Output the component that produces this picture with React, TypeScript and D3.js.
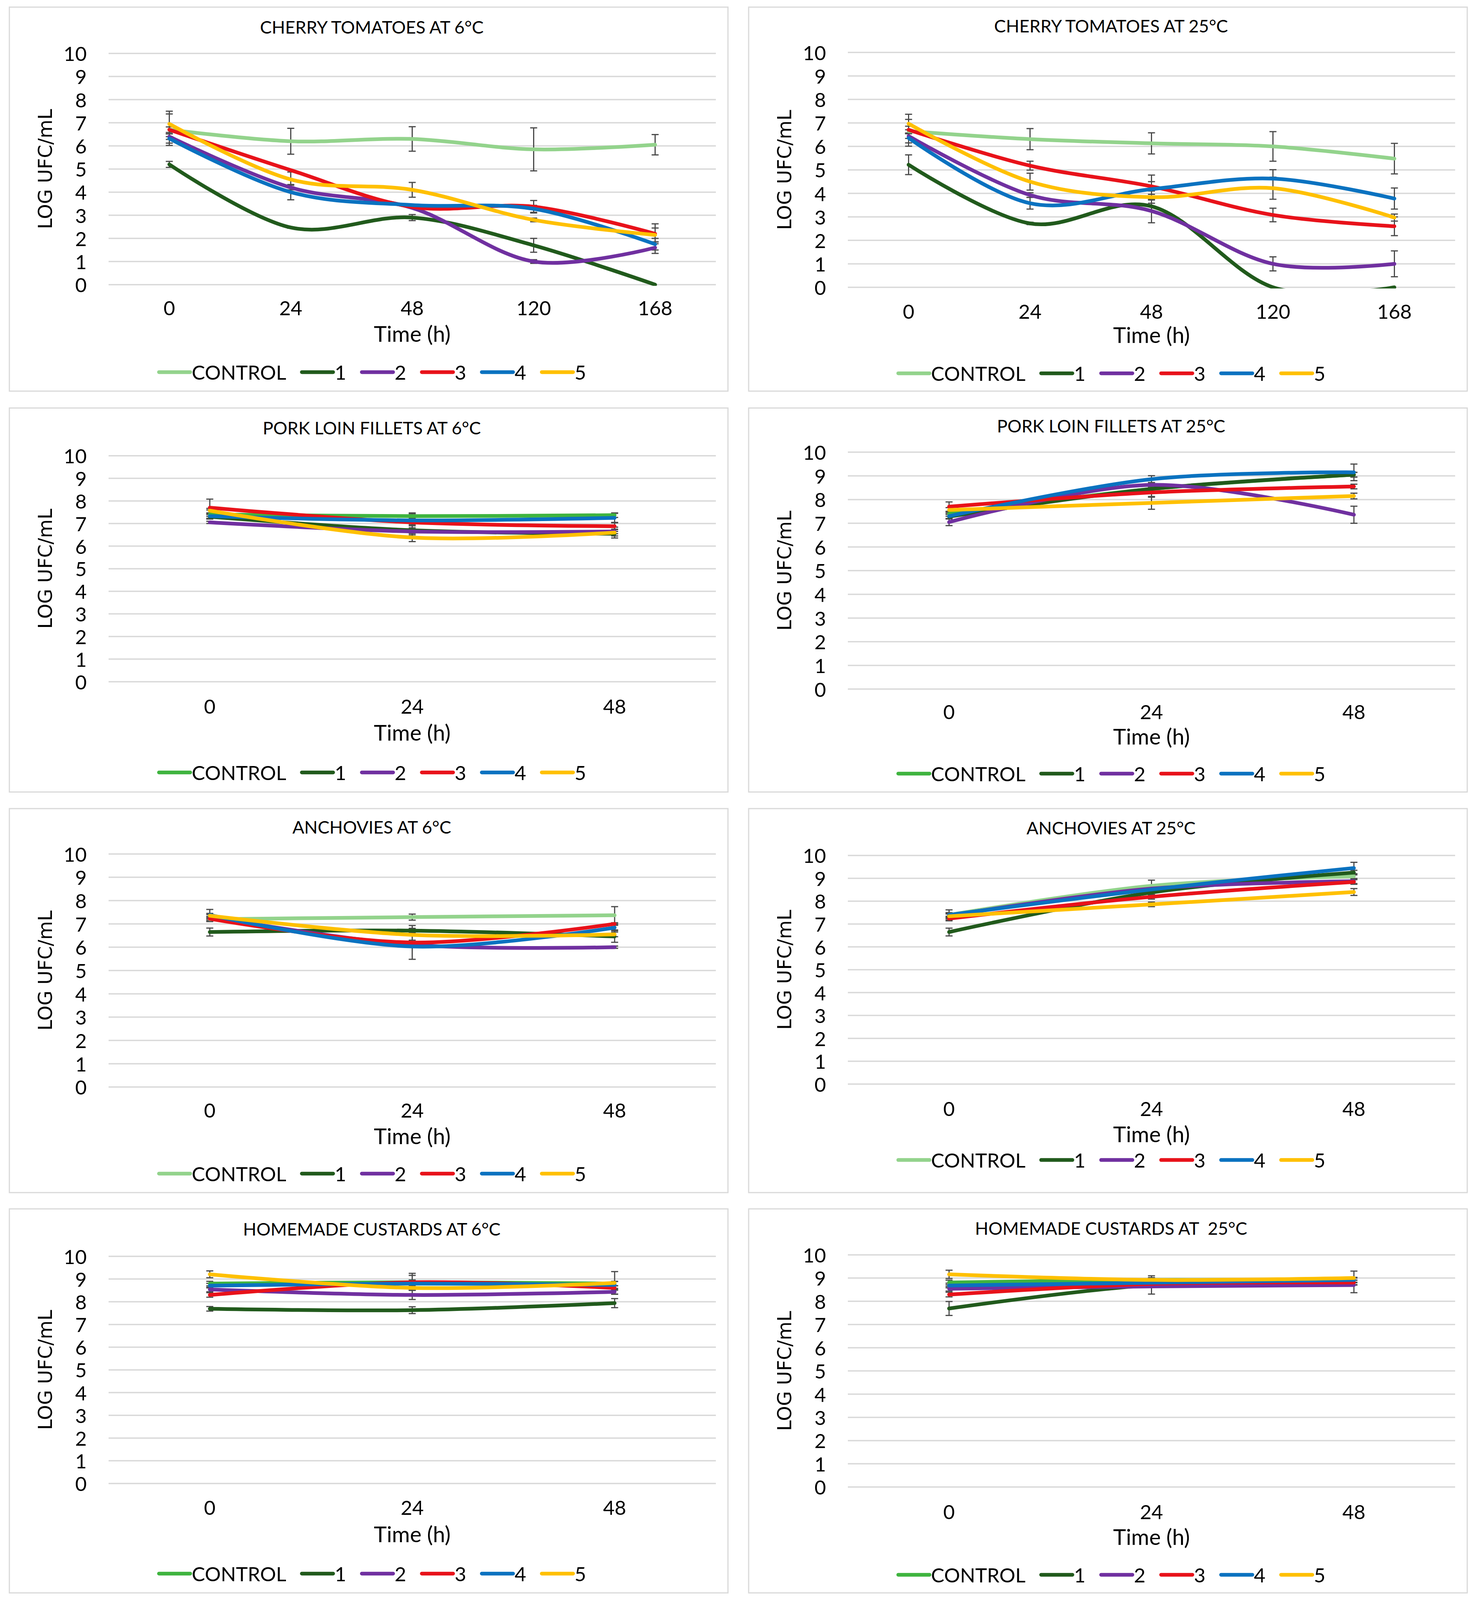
import { useEffect, useRef } from "react"
import * as d3 from "d3"

// series and categories
const seriesNames = ["CONTROL", "1", "2", "3", "4", "5"]
const timesLong = ["0", "24", "48", "120", "168"]
const timesShort = ["0", "24", "48"]
const yTicks = [0, 1, 2, 3, 4, 5, 6, 7, 8, 9, 10]

const titles = [
  "CHERRY TOMATOES AT 6°C",
  "CHERRY TOMATOES AT 25°C",
  "PORK LOIN FILLETS AT 6°C",
  "PORK LOIN FILLETS AT 25°C",
  "ANCHOVIES AT 6°C",
  "ANCHOVIES AT 25°C",
  "HOMEMADE CUSTARDS AT 6°C",
  "HOMEMADE CUSTARDS AT  25°C",
]

// mean log counts, one row per series (CONTROL, 1..5)
const cherry6Mean = [
  [6.7, 6.2, 6.3, 5.85, 6.05],
  [5.2, 2.47, 2.9, 1.7, 0],
  [6.4, 4.2, 3.32, 1.0, 1.6],
  [6.7, 4.95, 3.36, 3.37, 2.2],
  [6.32, 4.0, 3.44, 3.28, 1.75],
  [6.95, 4.55, 4.1, 2.8, 2.15],
]
const cherry6Err = [
  [0.12, 0.56, 0.53, 0.93, 0.44],
  [0.13, 0.03, 0.13, 0.3, 0],
  [0.12, 0.1, 0, 0.08, 0.25],
  [0.68, 0, 0, 0.27, 0.43],
  [0.2, 0.33, 0, 0.15, 0.25],
  [0.55, 0.32, 0.32, 0.08, 0.3],
]

const cherry25Mean = [
  [6.65, 6.31, 6.13, 6.0, 5.48],
  [5.22, 2.72, 3.45, 0, 0],
  [6.44, 3.93, 3.25, 1.0, 1.0],
  [6.71, 5.18, 4.3, 3.08, 2.6],
  [6.36, 3.58, 4.18, 4.63, 3.78],
  [6.97, 4.5, 3.84, 4.22, 2.97],
]
const cherry25Err = [
  [0.5, 0.45, 0.45, 0.63, 0.65],
  [0.42, 0.05, 0, 0, 0],
  [0.1, 0.1, 0.5, 0.3, 0.55],
  [0.15, 0.19, 0.2, 0.29, 0.4],
  [0.35, 0.25, 0.6, 0.38, 0.45],
  [0.4, 0.36, 0.12, 0.47, 0.15],
]

const pork6Mean = [
  [7.4, 7.33, 7.37],
  [7.3, 6.7, 6.55],
  [7.05, 6.65, 6.65],
  [7.7, 7.05, 6.88],
  [7.33, 7.14, 7.25],
  [7.57, 6.38, 6.6],
]
const pork6Err = [
  [0.2, 0.1, 0.1],
  [0.1, 0.2, 0.1],
  [0.05, 0.05, 0.1],
  [0.38, 0.1, 0.15],
  [0.1, 0.33, 0.2],
  [0.1, 0.18, 0.24],
]

const pork25Mean = [
  [7.4, 8.45, 9.05],
  [7.28, 8.45, 9.05],
  [7.05, 8.62, 7.36],
  [7.7, 8.3, 8.55],
  [7.3, 8.86, 9.15],
  [7.56, 7.86, 8.15],
]
const pork25Err = [
  [0.1, 0.1, 0.1],
  [0.1, 0.1, 0.1],
  [0.15, 0.1, 0.36],
  [0.2, 0.2, 0.1],
  [0.1, 0.15, 0.35],
  [0.1, 0.27, 0.12],
]

const anchovy6Mean = [
  [7.2, 7.29, 7.37],
  [6.65, 6.71, 6.46],
  [7.3, 6.1, 6.0],
  [7.22, 6.2, 7.0],
  [7.38, 6.03, 6.84],
  [7.35, 6.53, 6.55],
]
const anchovy6Err = [
  [0.1, 0.13, 0.37],
  [0.17, 0.1, 0.25],
  [0.1, 0.05, 0.05],
  [0.1, 0.1, 0.05],
  [0.24, 0.55, 0.1],
  [0.1, 0.4, 0.1],
]

const anchovy25Mean = [
  [7.4, 8.67, 9.09],
  [6.65, 8.38, 9.25],
  [7.37, 8.55, 8.87],
  [7.24, 8.19, 8.84],
  [7.4, 8.51, 9.45],
  [7.34, 7.86, 8.4],
]
const anchovy25Err = [
  [0.1, 0.25, 0.1],
  [0.17, 0.1, 0.1],
  [0.1, 0.1, 0.1],
  [0.1, 0.1, 0.1],
  [0.22, 0.1, 0.25],
  [0.1, 0.1, 0.15],
]

const custard6Mean = [
  [8.8, 8.86, 8.8],
  [7.69, 7.63, 7.94],
  [8.54, 8.3, 8.44],
  [8.3, 8.86, 8.61],
  [8.71, 8.8, 8.74],
  [9.21, 8.61, 8.83],
]
const custard6Err = [
  [0.1, 0.1, 0.1],
  [0.1, 0.15, 0.2],
  [0.1, 0.2, 0.1],
  [0.1, 0.3, 0.1],
  [0.1, 0.45, 0.15],
  [0.15, 0.1, 0.5],
]

const custard25Mean = [
  [8.81, 8.92, 8.9],
  [7.69, 8.7, 8.81],
  [8.54, 8.64, 8.7],
  [8.29, 8.75, 8.81],
  [8.68, 8.8, 8.92],
  [9.16, 8.92, 9.0],
]
const custard25Err = [
  [0.1, 0.1, 0.1],
  [0.3, 0.1, 0.1],
  [0.1, 0.33, 0.33],
  [0.1, 0.1, 0.1],
  [0.1, 0.1, 0.1],
  [0.18, 0.18, 0.3],
]

const lightControl = "#93d38c"
const darkControl = "#3fb43f"
const treatmentColors = ["#215a1c", "#7030a0", "#e8121a", "#0a72c0", "#ffc000"]

// layout (page pixels at full height)
const FULL_W = 3782
const FULL_H = 5396
const W = 1840
const H = 1295
const colX = [24, 1917]
const rowY = [24, 1376, 2727, 4077]
const plotL = 254
const plotR = 1809

const LABEL_FONT = "Lato, 'Liberation Sans', sans-serif"

const panels = [
  { mean: cherry6Mean, err: cherry6Err, times: timesLong, control: lightControl, yTop: 156, yBot: 936, titleY: 67, tickY: 1014, timeY: 1101, legendY: 1231 },
  { mean: cherry25Mean, err: cherry25Err, times: timesLong, control: lightControl, yTop: 153, yBot: 945, titleY: 63, tickY: 1025, timeY: 1105, legendY: 1235 },
  { mean: pork6Mean, err: pork6Err, times: timesShort, control: darkControl, yTop: 161, yBot: 923, titleY: 66, tickY: 1005, timeY: 1094, legendY: 1229 },
  { mean: pork25Mean, err: pork25Err, times: timesShort, control: darkControl, yTop: 149, yBot: 948, titleY: 60, tickY: 1024, timeY: 1106, legendY: 1233 },
  { mean: anchovy6Mean, err: anchovy6Err, times: timesShort, control: lightControl, yTop: 153, yBot: 939, titleY: 62, tickY: 1017, timeY: 1103, legendY: 1231 },
  { mean: anchovy25Mean, err: anchovy25Err, times: timesShort, control: lightControl, yTop: 158, yBot: 929, titleY: 64, tickY: 1011, timeY: 1097, legendY: 1185 },
  { mean: custard6Mean, err: custard6Err, times: timesShort, control: darkControl, yTop: 160, yBot: 926, titleY: 67, tickY: 1006, timeY: 1096, legendY: 1230 },
  { mean: custard25Mean, err: custard25Err, times: timesShort, control: darkControl, yTop: 155, yBot: 938, titleY: 65, tickY: 1020, timeY: 1105, legendY: 1234 },
]

export default function App() {
  const svgRef = useRef<SVGSVGElement>(null)

  // squeeze the layout vertically if the window is shorter than the figure
  const sy = typeof window !== "undefined" ? Math.min(1, window.innerHeight / FULL_H) : 1
  const pageH = Math.floor(FULL_H * sy)

  useEffect(() => {
    if (!svgRef.current) return
    const svg = d3.select(svgRef.current)
    svg.selectAll("*").remove()

    svg.append("rect").attr("width", FULL_W).attr("height", pageH).attr("fill", "#fff")

    panels.forEach((p, idx) => {
      const px = colX[idx % 2]
      const py = rowY[Math.floor(idx / 2)] * sy
      const colors = [p.control, ...treatmentColors]
      const yTop = p.yTop * sy
      const yBot = p.yBot * sy

      const g = svg.append("g").attr("transform", `translate(${px},${py})`)

      g.append("rect")
        .attr("x", 0)
        .attr("y", 0)
        .attr("width", W)
        .attr("height", H * sy)
        .attr("fill", "#fff")
        .attr("stroke", "#d9d9d9")
        .attr("stroke-width", 3)

      const x = d3.scalePoint<string>().domain(p.times).range([plotL, plotR]).padding(0.5)
      const y = d3.scaleLinear().domain([0, 10]).range([yBot, yTop])

      // gridlines
      g.append("g")
        .selectAll("line")
        .data(yTicks)
        .join("line")
        .attr("x1", plotL)
        .attr("x2", plotR)
        .attr("y1", (d) => y(d))
        .attr("y2", (d) => y(d))
        .attr("stroke", "#d9d9d9")
        .attr("stroke-width", 3.5)

      // y tick labels
      g.append("g")
        .selectAll("text")
        .data(yTicks)
        .join("text")
        .attr("x", 198)
        .attr("y", (d) => y(d))
        .attr("text-anchor", "end")
        .attr("dominant-baseline", "central")
        .style("font-family", LABEL_FONT)
        .style("font-size", "51px")
        .style("fill", "#000")
        .text((d) => String(d))

      // x tick labels
      g.append("g")
        .selectAll("text")
        .data(p.times)
        .join("text")
        .attr("x", (d) => x(d) as number)
        .attr("y", p.tickY * sy)
        .attr("text-anchor", "middle")
        .attr("dominant-baseline", "central")
        .style("font-family", LABEL_FONT)
        .style("font-size", "51px")
        .style("fill", "#000")
        .text((d) => d)

      // clip to plot area
      const clipId = `clip-${idx}`
      g.append("clipPath")
        .attr("id", clipId)
        .append("rect")
        .attr("x", plotL)
        .attr("y", yTop - 20)
        .attr("width", plotR - plotL)
        .attr("height", yBot - yTop + 23)

      const plot = g.append("g").attr("clip-path", `url(#${clipId})`)

      // error bars
      p.mean.forEach((row, s) => {
        row.forEach((v, i) => {
          const e = p.err[s][i]
          if (!e) return
          const cx = x(p.times[i]) as number
          const bar = plot.append("g").attr("stroke", "#4a4a4a").attr("stroke-width", 3)
          bar.append("line").attr("x1", cx).attr("x2", cx).attr("y1", y(v - e)).attr("y2", y(v + e))
          bar.append("line").attr("x1", cx - 9).attr("x2", cx + 9).attr("y1", y(v - e)).attr("y2", y(v - e))
          bar.append("line").attr("x1", cx - 9).attr("x2", cx + 9).attr("y1", y(v + e)).attr("y2", y(v + e))
        })
      })

      // smoothed series lines
      const line = d3
        .line<number>()
        .x((_, i) => x(p.times[i]) as number)
        .y((d) => y(d))
        .curve(d3.curveCatmullRom.alpha(0))

      p.mean.forEach((row, s) => {
        plot
          .append("path")
          .attr("d", line(row))
          .attr("fill", "none")
          .attr("stroke", colors[s])
          .attr("stroke-width", 9.5)
          .attr("stroke-linecap", "round")
          .attr("stroke-linejoin", "round")
      })

      // chart title
      g.append("text")
        .attr("x", W / 2 + 8)
        .attr("y", p.titleY * sy)
        .attr("text-anchor", "middle")
        .attr("dominant-baseline", "central")
        .style("font-family", LABEL_FONT)
        .style("font-size", "45px")
        .style("fill", "#000")
        .style("white-space", "pre")
        .text(titles[idx])

      // axis titles
      g.append("text")
        .attr("x", (plotL + plotR) / 2)
        .attr("y", p.timeY * sy)
        .attr("text-anchor", "middle")
        .attr("dominant-baseline", "central")
        .style("font-family", LABEL_FONT)
        .style("font-size", "56px")
        .style("fill", "#000")
        .text("Time (h)")

      g.append("text")
        .attr("transform", `translate(92,${(yTop + yBot) / 2}) rotate(-90)`)
        .attr("text-anchor", "middle")
        .attr("dominant-baseline", "central")
        .style("font-family", "'DejaVu Sans', sans-serif")
        .style("font-size", "49px")
        .style("fill", "#000")
        .text("LOG UFC/mL")

      // legend
      const legendY = p.legendY * sy
      const legend = g.append("g")
      const items = seriesNames.map((name, s) => {
        const item = legend.append("g")
        item
          .append("line")
          .attr("x1", 0)
          .attr("x2", 80)
          .attr("y1", legendY)
          .attr("y2", legendY)
          .attr("stroke", colors[s])
          .attr("stroke-width", 9.5)
          .attr("stroke-linecap", "round")
        const t = item
          .append("text")
          .attr("x", 84)
          .attr("y", legendY)
          .attr("dominant-baseline", "central")
          .style("font-family", LABEL_FONT)
          .style("font-size", "51px")
          .style("fill", "#000")
          .text(name)
        const tw = (t.node() as SVGTextElement).getComputedTextLength()
        return { item, w: 84 + tw }
      })
      const gap = 40
      const total = d3.sum(items, (d) => d.w) + gap * (items.length - 1)
      let cursor = W / 2 + 10 - total / 2
      items.forEach((d) => {
        d.item.attr("transform", `translate(${cursor},0)`)
        cursor += d.w + gap
      })
    })
  }, [sy, pageH])

  return (
    <div style={{ position: "absolute", left: 0, top: 0 }}>
      <svg ref={svgRef} width={FULL_W} height={pageH} style={{ display: "block" }}></svg>
    </div>
  )
}
